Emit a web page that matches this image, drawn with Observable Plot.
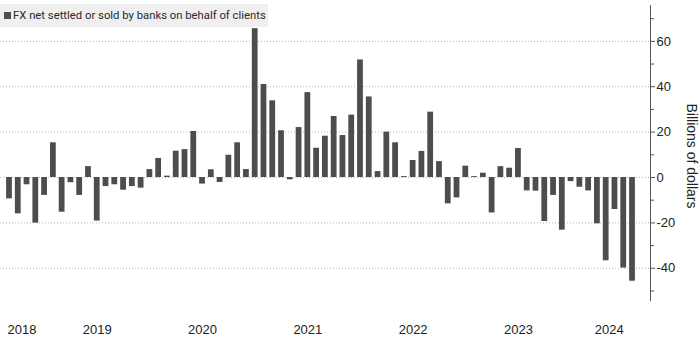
<!DOCTYPE html>
<html>
<head>
<meta charset="utf-8">
<script src="https://cdn.jsdelivr.net/npm/d3@7"></script>
<script src="https://cdn.jsdelivr.net/npm/@observablehq/plot@0.6"></script>
<style>
  body { margin: 0; background: #fff; }
  #wrap { position: relative; width: 700px; height: 339px; overflow: hidden; font-family: "Liberation Sans", Arial, sans-serif; }
  #legend { position: absolute; left: 0; top: 4px; width: 268px; height: 23px; background: #efefef; display: flex; align-items: center; font-family: Roboto, "Liberation Sans", sans-serif; font-size: 11.3px; color: #2a2a2a; white-space: nowrap; }
  #legend .sw { width: 7px; height: 7px; background: #4d4d4d; margin-left: 4px; margin-right: 2px; flex: none; }
</style>
</head>
<body>
<div id="wrap"><div id="legend"><span class="sw"></span><span id="ltext"></span></div></div>
<script>
const seriesName = "FX net settled or sold by banks on behalf of clients";
const months = [
  "2018-03","2018-04","2018-05","2018-06","2018-07","2018-08","2018-09","2018-10","2018-11","2018-12",
  "2019-01","2019-02","2019-03","2019-04","2019-05","2019-06","2019-07","2019-08","2019-09","2019-10","2019-11","2019-12",
  "2020-01","2020-02","2020-03","2020-04","2020-05","2020-06","2020-07","2020-08","2020-09","2020-10","2020-11","2020-12",
  "2021-01","2021-02","2021-03","2021-04","2021-05","2021-06","2021-07","2021-08","2021-09","2021-10","2021-11","2021-12",
  "2022-01","2022-02","2022-03","2022-04","2022-05","2022-06","2022-07","2022-08","2022-09","2022-10","2022-11","2022-12",
  "2023-01","2023-02","2023-03","2023-04","2023-05","2023-06","2023-07","2023-08","2023-09","2023-10","2023-11","2023-12",
  "2024-01","2024-02"
];
const values = [
  -9.4,-16.0,-3.2,-20.1,-7.9,15.3,-15.3,-2.3,-7.9,4.8,
  -19.2,-4.0,-3.2,-5.6,-4.0,-4.7,3.5,8.4,0.6,11.6,12.3,20.3,
  -2.9,3.4,-2.2,9.8,15.3,3.5,65.6,41.0,33.8,20.6,-1.0,22.0,
  37.4,12.9,18.2,26.9,18.5,27.5,51.8,35.5,2.6,20.0,15.3,0.4,
  7.5,11.5,28.8,7.0,-11.6,-9.0,5.0,0.4,1.9,-15.6,4.8,4.1,
  12.8,-5.9,-6.0,-19.4,-7.9,-23.2,-1.8,-4.3,-5.9,-20.4,-36.7,-14.1,
  -39.9,-45.7
];
const yearTickMonths = ["2018-03","2019-01","2020-01","2021-01","2022-01","2023-01","2024-01"];
const yearLabels = ["2018","2019","2020","2021","2022","2023","2024"];
const yMajorTicks = [-40,-20,0,20,40,60];
const yMinorTicks = [-50,-30,-10,10,30,50,70];
const yTitle = "Billions of dollars";

document.getElementById("ltext").textContent = seriesName;

const data = months.map((m, i) => ({month: m, value: values[i]}));
const yearRows = yearTickMonths.map((m, i) => ({month: m, label: yearLabels[i]}));
const n = yearRows.length;

const font = "Liberation Sans, Arial, sans-serif";
const chart = Plot.plot({
  width: 700,
  height: 339,
  marginTop: 5,
  marginBottom: 39,
  marginLeft: 0,
  marginRight: 50,
  style: {fontFamily: font, background: "transparent", overflow: "visible"},
  x: {type: "band", domain: months, padding: 0, insetLeft: 4.6, insetRight: 13.6, axis: null},
  y: {domain: [-54.2, 75.8], axis: null},
  marks: [
    Plot.ruleY(yMajorTicks, {stroke: "#b5b5b5", strokeWidth: 1, strokeDasharray: "1,2"}),
    Plot.barY(data, {x: "month", y: "value", fill: "#4d4d4d", insetLeft: 1.5, insetRight: 1.5}),
    Plot.frame({anchor: "right", stroke: "#555"}),
    Plot.axisY(yMinorTicks, {anchor: "right", tickSize: 3, text: null, stroke: "#555", label: null}),
    Plot.axisY(yMajorTicks, {anchor: "right", tickSize: 4, tickPadding: 2, stroke: "#555", fill: "#222", fontSize: 13, tickFormat: d => `${d}`, label: null}),
    Plot.text([yTitle], {frameAnchor: "right", text: d => d, rotate: 90, textAnchor: "middle", lineAnchor: "middle", dx: 41, dy: 3, fontSize: 14, fill: "#222"}),
    Plot.text(yearRows.slice(0, 1), {x: "month", text: "label", frameAnchor: "bottom", lineAnchor: "middle", dy: 29.5, textAnchor: "start", dx: -2, fontSize: 13, fill: "#222"}),
    Plot.text(yearRows.slice(1, n - 1), {x: "month", text: "label", frameAnchor: "bottom", lineAnchor: "middle", dy: 29.5, fontSize: 13, fill: "#222"}),
    Plot.text(yearRows.slice(n - 1), {x: "month", text: "label", frameAnchor: "bottom", lineAnchor: "middle", dy: 29.5, textAnchor: "end", fontSize: 13, fill: "#222"})
  ]
});
const wrap = document.getElementById("wrap");
wrap.insertBefore(chart, wrap.firstChild);
</script>
</body>
</html>
